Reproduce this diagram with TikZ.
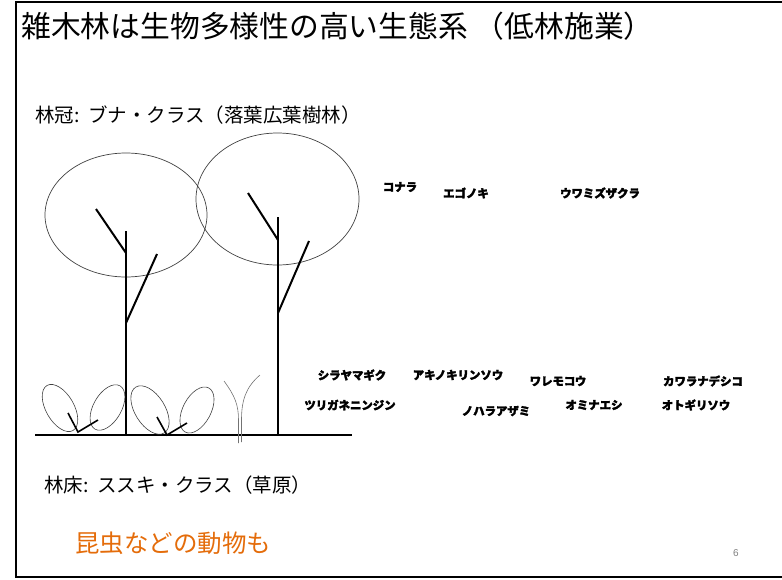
\documentclass[tikz,border=0pt]{standalone}
\usepackage{fontspec}
\newfontfamily\jp{Noto Sans CJK JP}
\newfontfamily\jpheavy[BoldFeatures={FakeBold=2.5}]{Noto Sans CJK JP}
\newfontfamily\numfont{Liberation Sans}
\definecolor{accentorange}{HTML}{E46C0A}
\begin{document}
\begin{tikzpicture}[x=1pt,y=-1pt,
  frame/.style={line width=2pt, black},
  trunk/.style={line width=2pt, black},
  crown/.style={draw=black!75, line width=0.7pt},
  leaf/.style={draw=black!75, line width=0.6pt},
  sprout/.style={line width=1.6pt, black},
  grass/.style={draw=black!55, line width=0.6pt},
  heading/.style={anchor=west, inner sep=0pt, font=\jp\fontsize{29.8}{32}\selectfont},
  layer/.style={anchor=west, inner sep=0pt, font=\jp\fontsize{19.5}{22}\selectfont},
  species/.style={inner sep=0pt, font=\jpheavy\bfseries\fontsize{11.4}{13}\selectfont},
  note/.style={anchor=west, inner sep=0pt, text=accentorange, font=\jp\fontsize{24.5}{27}\selectfont},
  pagenum/.style={inner sep=0pt, text=black!50, font=\numfont\fontsize{10}{11}\selectfont}
]
\useasboundingbox (0,0) rectangle (782,579);

% slide frame
\draw[frame] (782,2) -- (16,2) -- (16,577) -- (782,577);

% texts
\node[heading] (title) at (21,26) {雑木林は生物多様性の高い生態系 （低林施業）};
\node[layer] (canopy) at (35,115) {林冠:\ \ ブナ・クラス（落葉広葉樹林）};
\node[layer] (floor) at (44,485) {林床:\ \ ススキ・クラス（草原）};
\node[note] (animals) at (75,543) {昆虫などの動物も};
\node[pagenum] (page) at (736,553) {6};

% canopy species
\node[species] (konara) at (400,187) {コナラ};
\node[species] (egonoki) at (466,193) {エゴノキ};
\node[species] (uwamizu) at (600,193) {ウワミズザクラ};

% floor species
\node[species] (shirayama) at (352,375) {シラヤマギク};
\node[species] (akino) at (458,375) {アキノキリンソウ};
\node[species] (waremoko) at (558,381) {ワレモコウ};
\node[species] (kawara) at (703,381) {カワラナデシコ};
\node[species] (tsuriga) at (350,405) {ツリガネニンジン};
\node[species] (nohara) at (496,411) {ノハラアザミ};
\node[species] (ominaeshi) at (594,405) {オミナエシ};
\node[species] (otogiri) at (696,405) {オトギリソウ};

% ground
\draw[trunk] (35,435) -- (352,435);

% left tree
\draw[crown] (126,215) ellipse [x radius=81, y radius=62];
\draw[trunk] (126,231) -- (126,435);
\draw[trunk] (96,209) -- (126,253);
\draw[trunk] (157,254) -- (126,323);

% right tree
\draw[crown] (277.5,199) ellipse [x radius=81.5, y radius=66];
\draw[trunk] (278,217) -- (278,435);
\draw[trunk] (248,193) -- (278,240);
\draw[trunk] (309,241) -- (278,313);

% first seedling
\draw[leaf, rotate around={-60:(60,408)}] (60,408) ellipse [x radius=26, y radius=14];
\draw[leaf, rotate around={60:(107.5,407.5)}] (107.5,407.5) ellipse [x radius=25, y radius=14];
\draw[sprout] (68,413) -- (78,432) -- (98,420);

% second seedling
\draw[leaf, rotate around={-58:(150,410)}] (150,410) ellipse [x radius=27, y radius=15];
\draw[leaf, rotate around={62:(197,410)}] (197,410) ellipse [x radius=25, y radius=14];
\draw[sprout] (157,417) -- (167,435) -- (187,423);

% grass blade
\draw[grass] (224,381) .. controls (235,396) and (238.5,405) .. (238.5,420) -- (238.5,443);
\draw[grass] (260,375) .. controls (246,387) and (241.5,400) .. (241.5,420) -- (241.5,442);
\end{tikzpicture}
\end{document}
